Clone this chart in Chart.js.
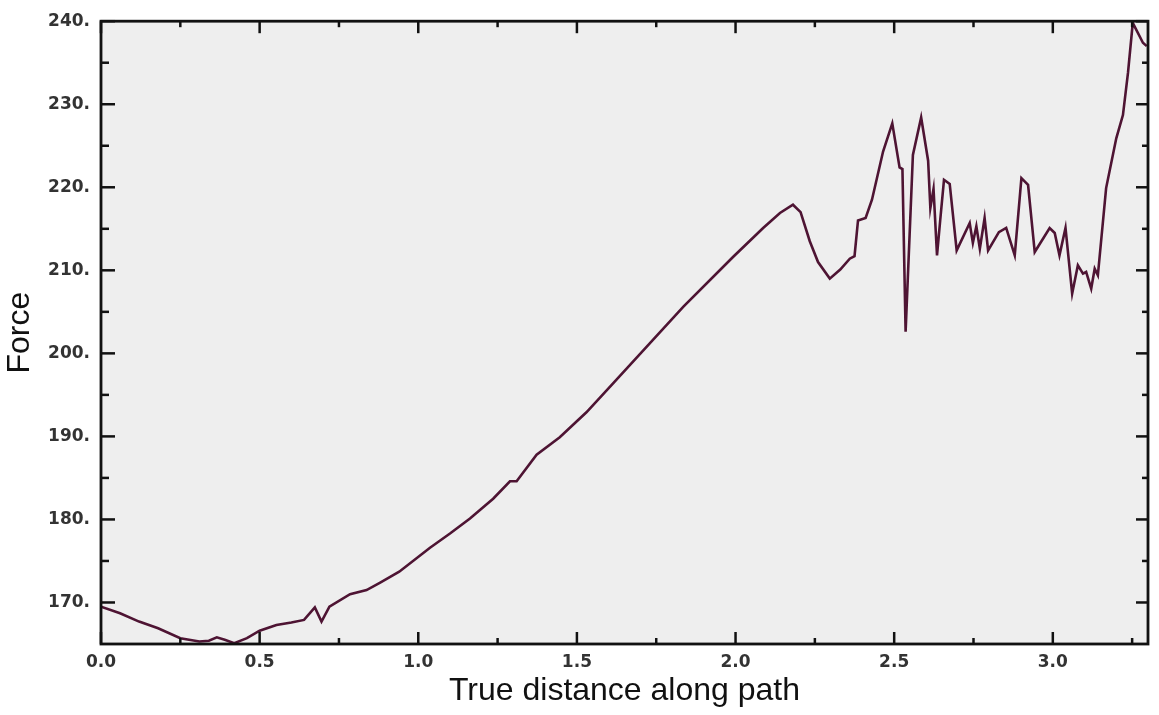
<!DOCTYPE html>
<html>
<head>
<meta charset="utf-8">
<script src="https://cdn.jsdelivr.net/npm/chart.js@4.4.0/dist/chart.umd.min.js"></script>
<style>
  html, body { margin: 0; padding: 0; background: #ffffff; }
  #wrap { width: 1159px; height: 715px; }
</style>
</head>
<body>
<div id="wrap"><canvas id="c" width="1159" height="715"></canvas></div>
<script>
// ---- data ----
const distance = [0.000, 0.060, 0.120, 0.180, 0.250, 0.310, 0.340, 0.365, 0.390, 0.420, 0.460, 0.500, 0.553, 0.600, 0.640, 0.674, 0.695, 0.720, 0.785, 0.837, 0.880, 0.940, 1.037, 1.100, 1.163, 1.236, 1.289, 1.310, 1.373, 1.446, 1.530, 1.614, 1.835, 1.992, 2.087, 2.140, 2.181, 2.205, 2.234, 2.260, 2.297, 2.330, 2.360, 2.375, 2.386, 2.410, 2.430, 2.465, 2.494, 2.517, 2.526, 2.536, 2.559, 2.585, 2.607, 2.614, 2.624, 2.635, 2.645, 2.657, 2.675, 2.697, 2.738, 2.748, 2.759, 2.770, 2.785, 2.796, 2.830, 2.853, 2.880, 2.901, 2.922, 2.943, 2.990, 3.006, 3.021, 3.040, 3.061, 3.079, 3.095, 3.105, 3.121, 3.132, 3.142, 3.168, 3.200, 3.221, 3.237, 3.252, 3.284, 3.296];
const force    = [169.5, 168.7, 167.7, 166.9, 165.7, 165.3, 165.4, 165.8, 165.5, 165.1, 165.7, 166.6, 167.3, 167.6, 167.9, 169.4, 167.7, 169.5, 171.0, 171.5, 172.4, 173.7, 176.6, 178.3, 180.1, 182.5, 184.6, 184.6, 187.8, 189.9, 192.9, 196.4, 205.6, 211.6, 215.1, 216.9, 217.9, 217.0, 213.5, 211.0, 209.0, 210.1, 211.4, 211.7, 216.0, 216.3, 218.5, 224.3, 227.7, 222.4, 222.2, 202.6, 223.9, 228.4, 223.2, 217.5, 219.8, 211.8, 216.0, 220.9, 220.4, 212.4, 215.7, 213.3, 215.3, 212.6, 216.3, 212.4, 214.6, 215.1, 211.8, 221.1, 220.3, 212.2, 215.1, 214.5, 211.8, 215.1, 207.2, 210.6, 209.6, 209.8, 207.8, 210.2, 209.4, 219.9, 225.9, 228.7, 233.8, 239.8, 237.4, 237.0];

const xMajorTicks = [0.0, 0.5, 1.0, 1.5, 2.0, 2.5, 3.0];
const xMinorTicks = [0.25, 0.75, 1.25, 1.75, 2.25, 2.75, 3.25];
const yMajorTicks = [170, 180, 190, 200, 210, 220, 230, 240];
const yMinorTicks = [175, 185, 195, 205, 215, 225, 235];

const xTitle = 'True distance along path';
const yTitle = 'Force';

// ---- chart ----
const points = distance.map((d, i) => ({ x: d, y: force[i] }));

const frame = {
  id: 'frame',
  beforeDraw(chart) {
    const { ctx, chartArea: a } = chart;
    ctx.save();
    ctx.fillStyle = '#eeeeee';
    ctx.fillRect(a.left, a.top, a.right - a.left, a.bottom - a.top);
    ctx.restore();
  },
  afterDraw(chart) {
    const { ctx, chartArea: a, scales } = chart;
    const xs = scales.x, ys = scales.y;
    ctx.save();
    ctx.strokeStyle = '#111111';
    ctx.lineWidth = 2.5;
    ctx.lineCap = 'butt';
    const tick = (x1, y1, x2, y2) => { ctx.beginPath(); ctx.moveTo(x1, y1); ctx.lineTo(x2, y2); ctx.stroke(); };
    xMajorTicks.forEach(v => { const p = xs.getPixelForValue(v); tick(p, a.bottom, p, a.bottom - 12); tick(p, a.top, p, a.top + 12); });
    xMinorTicks.forEach(v => { const p = xs.getPixelForValue(v); tick(p, a.bottom, p, a.bottom - 6); tick(p, a.top, p, a.top + 6); });
    yMajorTicks.forEach(v => { const p = ys.getPixelForValue(v); tick(a.left, p, a.left + 14, p); tick(a.right, p, a.right - 12, p); });
    yMinorTicks.forEach(v => { const p = ys.getPixelForValue(v); tick(a.left, p, a.left + 8, p); tick(a.right, p, a.right - 6, p); });
    ctx.lineWidth = 2.8;
    ctx.strokeRect(a.left, a.top, a.right - a.left, a.bottom - a.top);
    ctx.restore();
  }
};

new Chart(document.getElementById('c'), {
  type: 'line',
  data: {
    datasets: [{
      data: points,
      borderColor: '#4e1433',
      borderWidth: 2.6,
      pointRadius: 0,
      tension: 0,
      fill: false
    }]
  },
  options: {
    responsive: false,
    animation: false,
    events: [],
    layout: { padding: { top: 15, right: 11, left: 0, bottom: 0 } },
    plugins: { legend: { display: false }, tooltip: { enabled: false } },
    scales: {
      x: {
        type: 'linear',
        min: 0,
        max: 3.3,
        border: { display: false },
        grid: { display: false, drawTicks: false },
        afterBuildTicks: s => { s.ticks = xMajorTicks.map(v => ({ value: v })); },
        afterFit: s => { s.height = 71; },
        ticks: {
          padding: 8,
          maxRotation: 0,
          color: '#333333',
          font: { family: 'DejaVu Sans', weight: 'bold', size: 17 },
          callback: v => Number(v).toFixed(1)
        },
        title: {
          display: true,
          text: xTitle,
          color: '#111111',
          font: { family: 'Liberation Sans', size: 32 },
          padding: { top: 0, bottom: 5 }
        }
      },
      y: {
        type: 'linear',
        min: 165,
        max: 240,
        border: { display: false },
        grid: { display: false, drawTicks: false },
        afterBuildTicks: s => { s.ticks = yMajorTicks.map(v => ({ value: v })); },
        afterFit: s => { s.width = 101; },
        ticks: {
          padding: 11,
          color: '#333333',
          font: { family: 'DejaVu Sans', weight: 'bold', size: 17 },
          callback: v => v + '.'
        },
        title: {
          display: true,
          text: yTitle,
          color: '#111111',
          font: { family: 'Liberation Sans', size: 32 },
          padding: { top: 1, bottom: 0 }
        }
      }
    }
  },
  plugins: [frame]
});
</script>
</body>
</html>
